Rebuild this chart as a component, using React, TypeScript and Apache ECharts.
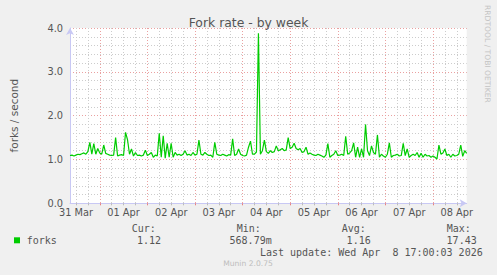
import React, { useEffect, useRef } from "react";
import * as echarts from "echarts";

// Day labels (centred at noon of each day)
const dayLabels = ["31 Mar", "01 Apr", "02 Apr", "03 Apr", "04 Apr", "05 Apr", "06 Apr", "07 Apr", "08 Apr"];
// Hour (counted from 31 Mar 00:00) of the first sample; one sample per hour
const startHour = 9;
// Fork rate, forks / second
const forks = [
  1.09, 1.10, 1.08, 1.10, 1.12, 1.11, 1.13, 1.15, 1.12, 1.18,
  1.39, 1.12, 1.36, 1.12, 1.25, 1.15, 1.12, 1.33, 1.14, 1.12,
  1.10, 1.09, 1.10, 1.50, 1.08, 1.10, 1.11, 1.09, 1.62, 1.45,
  1.12, 1.24, 1.08, 1.16, 1.09, 1.10, 1.08, 1.10, 1.21, 1.09,
  1.12, 1.16, 1.05, 1.10, 1.08, 1.60, 1.05, 1.54, 1.03, 1.37,
  1.05, 1.37, 1.05, 1.16, 1.10, 1.12, 1.09, 1.12, 1.20, 1.10,
  1.12, 1.09, 1.16, 1.10, 1.12, 1.44, 1.12, 1.10, 1.16, 1.12,
  1.09, 1.10, 1.05, 1.39, 1.12, 1.10, 1.09, 1.12, 1.10, 1.08,
  1.11, 1.10, 1.47, 1.09, 1.12, 1.24, 1.12, 1.09, 1.08, 1.10,
  1.28, 1.42, 1.12, 1.12, 1.17, 3.88, 1.12, 1.20, 1.44, 1.18,
  1.14, 1.20, 1.16, 1.18, 1.31, 1.20, 1.22, 1.25, 1.20, 1.22,
  1.50, 1.25, 1.28, 1.37, 1.25, 1.22, 1.25, 1.16, 1.18, 1.28,
  1.12, 1.15, 1.12, 1.10, 1.09, 1.12, 1.10, 1.08, 1.05, 1.10,
  1.36, 1.05, 1.09, 1.12, 1.20, 1.09, 1.10, 1.12, 1.09, 1.53,
  1.12, 1.15, 1.20, 1.38, 1.05, 1.28, 1.05, 1.24, 1.05, 1.80,
  1.20, 1.09, 1.31, 1.16, 1.12, 1.56, 1.05, 1.12, 1.08, 1.05,
  1.12, 1.38, 1.05, 1.09, 1.10, 1.12, 1.08, 1.09, 1.37, 1.09,
  1.24, 1.05, 1.09, 1.12, 1.09, 1.16, 1.05, 1.14, 1.05, 1.12,
  1.08, 1.09, 1.05, 1.08, 1.05, 1.01, 1.33, 1.12, 1.15, 1.24,
  1.09, 1.12, 1.05, 1.12, 1.08, 1.09, 1.12, 1.33, 1.07, 1.20,
  1.14,
];
// Y axis range
const yMin = 0;
const yMax = 4;
const yMajor = 1;
const yMinor = 0.2;
// Legend texts
const seriesName = "forks";
const statHeads = ["Cur:", "Min:", "Avg:", "Max:"];
const statValues = ["1.12", "568.79m", "1.16", "17.43"];
const lastUpdate = "Last update: Wed Apr  8 17:00:03 2026";
const titleText = "Fork rate - by week";
const yName = "forks / second";
const footer = "Munin 2.0.75";
const sideText = "RRDTOOL / TOBI OETIKER";

const GREEN = "#00cc00";
const TEXT = "#555555";
const SANS = "DejaVu Sans";
const MONO = "DejaVu Sans Mono";

export default function App() {
  const ref = useRef<HTMLDivElement>(null);
  useEffect(() => {
    if (!ref.current) return;
    const chart = echarts.init(ref.current, undefined, { renderer: "svg" });
    const cats = forks.map((_, i) => String(startHour + i));
    const hourOf = (idx: number) => startHour + idx;
    const isMinor = (idx: number) => hourOf(idx) % 6 === 0 && hourOf(idx) % 24 !== 0;
    const isMajor = (idx: number) => hourOf(idx) % 24 === 0;
    const isNoon = (idx: number) => hourOf(idx) % 24 === 12;

    const statX = [131.7, 236.7, 341.7, 446.7];
    const valRight = [161, 271.7, 370.7, 476.7];

    const graphics: any[] = [
      {
        type: "text",
        x: 487,
        y: 5,
        rotation: -Math.PI / 2,
        style: { text: sideText, fill: "#c4c4c4", font: `7.6px '${SANS}'`, align: "left", verticalAlign: "middle" },
      },
      { type: "rect", shape: { x: 14, y: 237.3, width: 6, height: 6 }, style: { fill: GREEN } },
      {
        type: "text",
        x: 26.7,
        y: 240,
        style: { text: seriesName, fill: TEXT, font: `10px '${MONO}'`, align: "left", verticalAlign: "middle" },
      },
      {
        type: "text",
        x: 482.7,
        y: 252,
        style: { text: lastUpdate, fill: TEXT, font: `10px '${MONO}'`, align: "right", verticalAlign: "middle" },
      },
      {
        type: "text",
        x: 248,
        y: 263.5,
        style: { text: footer, fill: "#bdbdbd", font: `7.6px '${SANS}'`, align: "center", verticalAlign: "middle" },
      },
    ];
    statHeads.forEach((h, k) => {
      graphics.push({
        type: "text",
        x: statX[k],
        y: 228.5,
        style: { text: h, fill: TEXT, font: `10px '${MONO}'`, align: "left", verticalAlign: "middle" },
      });
      graphics.push({
        type: "text",
        x: valRight[k],
        y: 240,
        style: { text: statValues[k], fill: TEXT, font: `10px '${MONO}'`, align: "right", verticalAlign: "middle" },
      });
    });

    const axisLineStyle = { color: "#c8c8f4", width: 1 };

    chart.setOption({
      animation: false,
      backgroundColor: "#f0f0f0",
      title: {
        text: titleText,
        left: "center",
        top: 11,
        textStyle: { fontFamily: SANS, fontSize: 12.4, fontWeight: "normal", color: TEXT },
      },
      grid: {
        left: 67,
        right: 30.3,
        top: 28,
        bottom: 71.7,
        show: true,
        backgroundColor: "#ffffff",
        borderWidth: 0,
      },
      xAxis: [
        {
          type: "category",
          data: cats,
          boundaryGap: false,
          position: "bottom",
          axisLine: { show: true, lineStyle: axisLineStyle, symbol: ["none", "arrow"], symbolSize: [6, 7] },
          axisTick: { show: true, interval: (i: number) => isMinor(i), length: 2, lineStyle: { color: "#bbbbbb" } },
          splitLine: {
            show: true,
            interval: (i: number) => isMinor(i),
            lineStyle: { color: "#cccccc", type: [1, 2], width: 1 },
          },
          axisLabel: {
            show: true,
            interval: (i: number) => isNoon(i),
            formatter: (v: string) => {
              const h = Number(v);
              return h % 24 === 12 ? dayLabels[Math.floor(h / 24)] : "";
            },
            color: TEXT,
            fontFamily: SANS,
            fontSize: 9.8,
            margin: 4,
          },
        },
        {
          type: "category",
          data: cats,
          boundaryGap: false,
          position: "bottom",
          axisLine: { show: false },
          axisTick: { show: true, interval: (i: number) => isMajor(i), length: 2, lineStyle: { color: "#e88080" } },
          splitLine: {
            show: true,
            interval: (i: number) => isMajor(i),
            lineStyle: { color: "#eaa0a0", type: [1, 2], width: 1 },
          },
          axisLabel: { show: false },
        },
      ],
      yAxis: [
        {
          type: "value",
          min: yMin,
          max: yMax,
          interval: yMinor,
          axisLine: { show: false },
          axisTick: { show: false },
          axisLabel: { show: false },
          splitLine: { show: true, lineStyle: { color: "#cccccc", type: [1, 2], width: 1 } },
        },
        {
          type: "value",
          min: yMin,
          max: yMax,
          interval: yMajor,
          position: "left",
          name: yName,
          nameLocation: "middle",
          nameGap: 51,
          nameTextStyle: { fontFamily: SANS, fontSize: 10.5, color: TEXT },
          axisLine: { show: true, lineStyle: axisLineStyle, symbol: ["none", "arrow"], symbolSize: [6, 7] },
          axisTick: { show: false },
          axisLabel: {
            show: true,
            formatter: (v: number) => v.toFixed(1),
            color: TEXT,
            fontFamily: SANS,
            fontSize: 9.8,
            margin: 7,
          },
          splitLine: {
            show: true,
            lineStyle: { color: "#eaa0a0", type: [1, 2], width: 1 },
          },
        },
      ],
      series: [
        {
          name: seriesName,
          type: "line",
          xAxisIndex: 0,
          yAxisIndex: 1,
          data: forks,
          showSymbol: false,
          symbol: "none",
          lineStyle: { color: GREEN, width: 1.2 },
          z: 5,
        },
      ],
      graphic: graphics,
    });
    return () => chart.dispose();
  }, []);
  return (
    <div
      ref={ref}
      style={{ position: "absolute", left: 0, top: 0, width: 497, height: 275 }}
    />
  );
}
